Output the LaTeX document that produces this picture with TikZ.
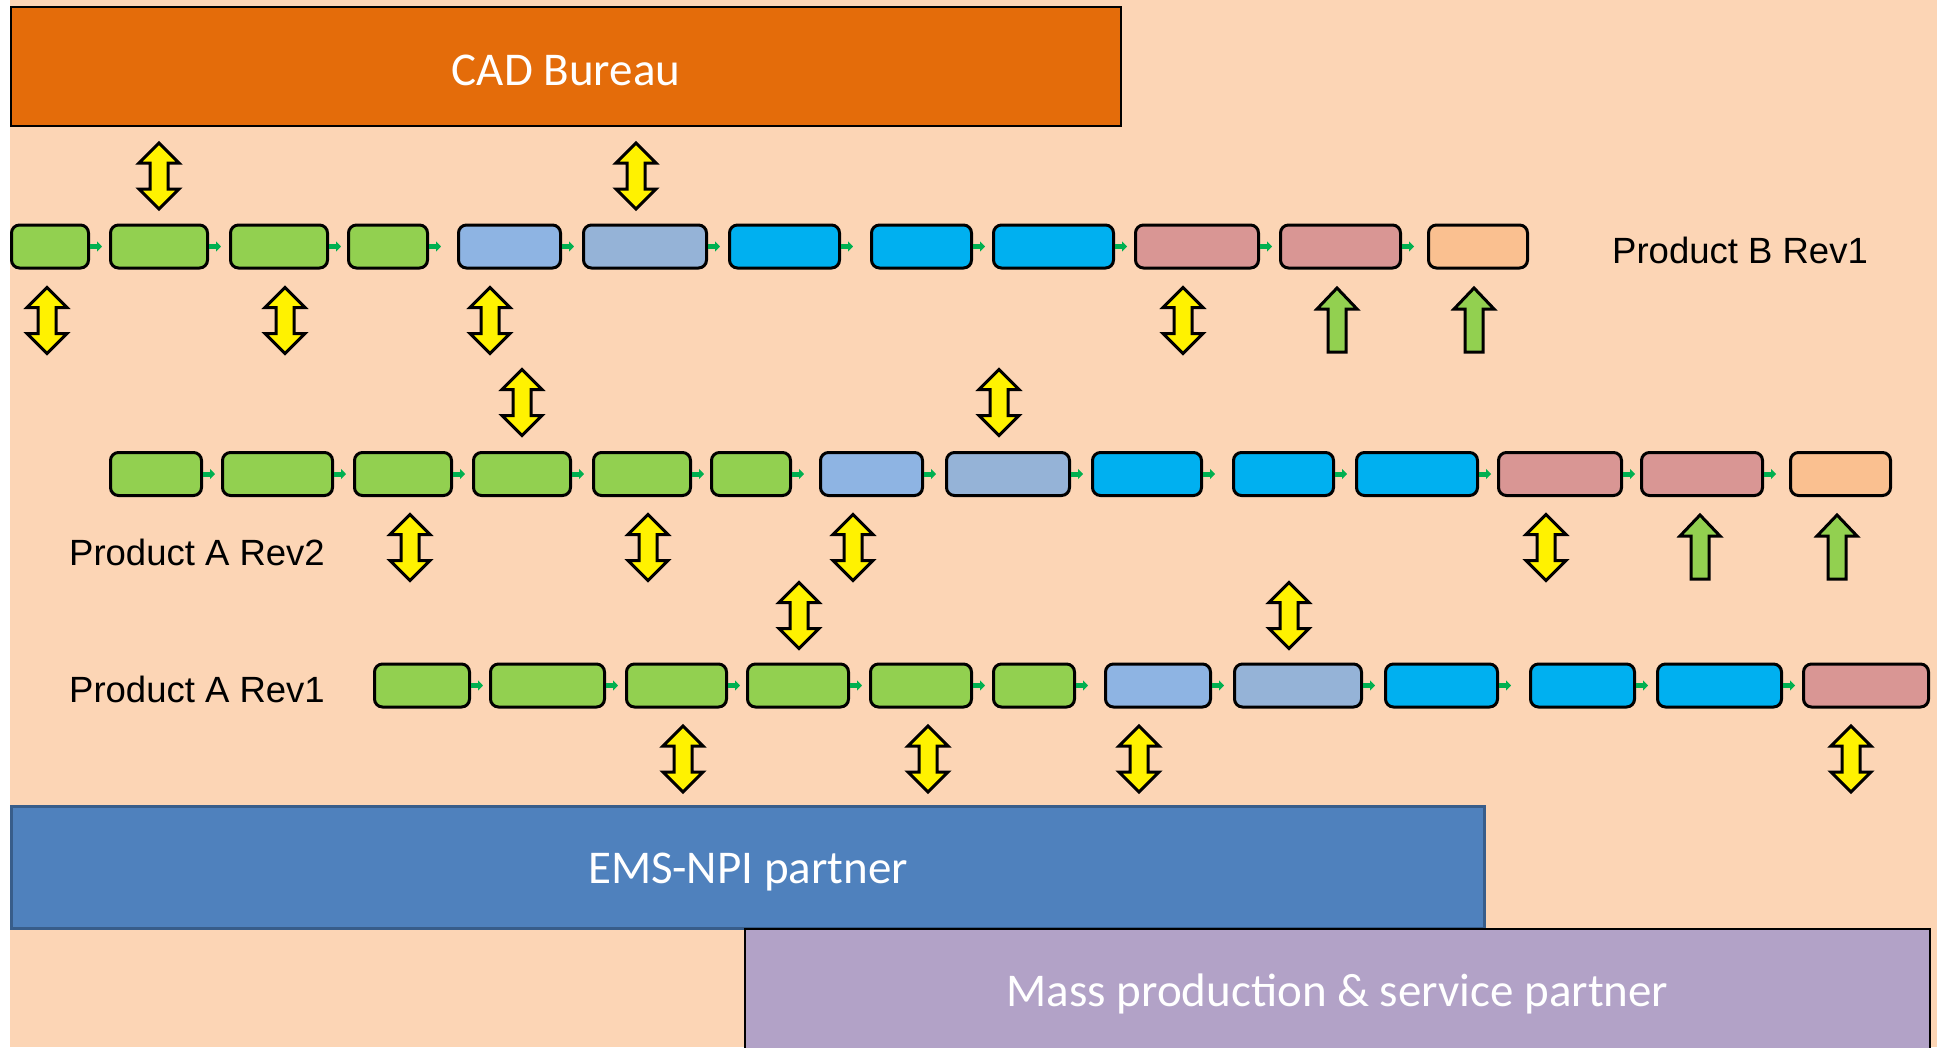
\documentclass[tikz,border=0pt]{standalone}
\usepackage{fontspec}
\setmainfont{Carlito}
\newfontfamily\labelfont{Liberation Sans}
\usetikzlibrary{positioning,arrows.meta}

\definecolor{bgpeach}{HTML}{FCD5B5}
\definecolor{cadorange}{HTML}{E46C0A}
\definecolor{emsblue}{HTML}{4F81BD}
\definecolor{emsedge}{HTML}{385D8A}
\definecolor{masslilac}{HTML}{B2A2C7}
\definecolor{phasegreen}{HTML}{92D050}
\definecolor{phaseblue}{HTML}{8EB4E3}
\definecolor{phasegrey}{HTML}{95B3D7}
\definecolor{phasecyan}{HTML}{00B0F0}
\definecolor{phaserose}{HTML}{D99694}
\definecolor{phasepeach}{HTML}{FAC090}
\definecolor{flowgreen}{HTML}{00B050}

\tikzset{
    phase/.style={draw=black, line width=3pt, rounded corners=8pt, minimum height=43pt, inner sep=0pt},
    flow/.style={draw=flowgreen, line width=5pt, -{Triangle[length=5pt,width=10pt]}},
    band/.style={draw=black, line width=2pt, inner sep=0pt, text=white, font=\fontsize{47}{56}\selectfont},
    rowlabel/.style={font=\labelfont\fontsize{36.5}{44}\selectfont, inner sep=0pt, anchor=base west},
    blockline/.style={draw=black, line width=3pt, line join=miter},
    twoway/.pic={\path[blockline, fill=yellow] (0,-33) -- (20,-13) -- (9,-13) -- (9,13) -- (20,13) -- (0,33) -- (-20,13) -- (-9,13) -- (-9,-13) -- (-20,-13) -- cycle;},
    oneway/.pic={\path[blockline, fill=phasegreen] (0,-32) -- (20,-11) -- (9,-11) -- (9,32) -- (-9,32) -- (-9,-11) -- (-20,-11) -- cycle;}
}

\begin{document}
\begin{tikzpicture}[x=1pt, y=-1pt]
    \useasboundingbox (0,0) rectangle (1937,1047);
    \fill[bgpeach] (10,0) rectangle (1937,1047);

    \node[band, fill=cadorange, minimum width=1110pt, minimum height=119pt, text height=38pt, text depth=0pt] (cad) at (566,66.5) {CAD Bureau};
    \node[band, draw=emsedge, line width=3pt, fill=emsblue, minimum width=1473pt, minimum height=122pt, text height=41pt, text depth=10pt] (ems) at (748,867.5) {EMS-NPI partner};
    \node[band, fill=masslilac, minimum width=1185pt, minimum height=124pt, text height=40pt, text depth=10pt] (mass) at (1337.5,991) {Mass production \& service partner};

    \coordinate (bone0) at (10,246.5);
    \foreach \w/\g/\col [count=\i] in {80/0/phasegreen, 100/19/phasegreen, 100/20/phasegreen, 82/18/phasegreen, 105/28/phaseblue, 126/20/phasegrey, 113/20/phasecyan, 103/29/phasecyan, 123/19/phasecyan, 126/19/phaserose, 123/19/phaserose, 102/25/phasepeach} {
        \pgfmathtruncatemacro\prev{\i-1}
        \node[phase, fill=\col, minimum width=\w pt-3pt, right=\g pt of bone\prev] (bone\i) {};
        \ifnum\i>1 \draw[flow, shorten >=\g pt-12pt] (bone\prev) -- (bone\i); \fi
    }

    \coordinate (atwo0) at (109,474);
    \foreach \w/\g/\col [count=\i] in {94/0/phasegreen, 113/18/phasegreen, 100/19/phasegreen, 100/19/phasegreen, 100/20/phasegreen, 82/18/phasegreen, 105/27/phaseblue, 126/21/phasegrey, 112/20/phasecyan, 103/29/phasecyan, 124/20/phasecyan, 126/18/phaserose, 124/17/phaserose, 103/25/phasepeach} {
        \pgfmathtruncatemacro\prev{\i-1}
        \node[phase, fill=\col, minimum width=\w pt-3pt, right=\g pt of atwo\prev] (atwo\i) {};
        \ifnum\i>1 \draw[flow, shorten >=\g pt-12pt] (atwo\prev) -- (atwo\i); \fi
    }

    \coordinate (aone0) at (373,685.5);
    \foreach \w/\g/\col [count=\i] in {98/0/phasegreen, 117/18/phasegreen, 103/19/phasegreen, 104/18/phasegreen, 104/19/phasegreen, 84/19/phasegreen, 108/28/phaseblue, 130/21/phasegrey, 115/21/phasecyan, 107/30/phasecyan, 127/20/phasecyan, 128/19/phaserose} {
        \pgfmathtruncatemacro\prev{\i-1}
        \node[phase, fill=\col, minimum width=\w pt-3pt, right=\g pt of aone\prev] (aone\i) {};
        \ifnum\i>1 \draw[flow, shorten >=\g pt-12pt] (aone\prev) -- (aone\i); \fi
    }

    \node[rowlabel] (labbone) at (1612,263) {Product B Rev1};
    \node[rowlabel] (labatwo) at (69,565) {Product A Rev2};
    \node[rowlabel] (labaone) at (69,702) {Product A Rev1};

    \foreach \x/\y in {159/176, 636/176, 47/320.5, 285/320.5, 490/320.5, 1183/320.5, 522/402.5, 999/402.5, 410/547.5, 648/547.5, 853/547.5, 1546/547.5, 799/615.5, 1289/615.5, 683/759, 928/759, 1139/759, 1851/759}
        \pic at (\x,\y) {twoway};
    \foreach \x/\y in {1337/320, 1474/320, 1700/547, 1837/547}
        \pic at (\x,\y) {oneway};
\end{tikzpicture}
\end{document}
